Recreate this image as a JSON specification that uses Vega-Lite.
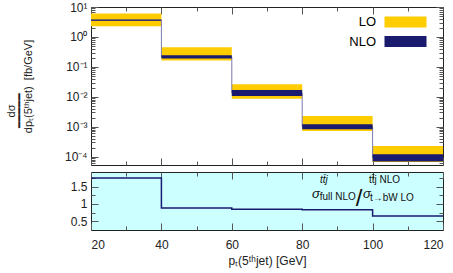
{
  "$schema": "https://vega.github.io/schema/vega-lite/v6.json",
  "padding": {"left": 4, "top": 0, "right": 9, "bottom": 2},
  "config": {
    "font": "Liberation Sans",
    "view": {"stroke": "#222", "strokeWidth": 1},
    "axis": {"domain": false, "grid": false, "tickColor": "#555", "labelFontSize": 12, "labelColor": "#222", "titleFontSize": 12, "titleFontWeight": "normal", "titleColor": "#222"}
  },
  "datasets": {
    "bins": [
      {"xlo": 20, "xhi": 40, "lo_min": 2.29, "lo_max": 6.07, "nlo_min": 3.45, "nlo_max": 3.8},
      {"xlo": 40, "xhi": 60, "lo_min": 0.165, "lo_max": 0.457, "nlo_min": 0.192, "nlo_max": 0.247},
      {"xlo": 60, "xhi": 80, "lo_min": 0.0087, "lo_max": 0.0261, "nlo_min": 0.01064, "nlo_max": 0.0169},
      {"xlo": 80, "xhi": 100, "lo_min": 0.000724, "lo_max": 0.00229, "nlo_min": 0.000826, "nlo_max": 0.00121},
      {"xlo": 100, "xhi": 120, "lo_min": 0.000067, "lo_max": 0.000229, "nlo_min": 0.000069, "nlo_max": 0.000121}
    ],
    "edges": [
      {"x": 20, "nlo": 3.6, "ratio": 1.75},
      {"x": 40, "nlo": 0.215, "ratio": 0.88},
      {"x": 60, "nlo": 0.0134, "ratio": 0.85},
      {"x": 80, "nlo": 0.001, "ratio": 0.83},
      {"x": 100, "nlo": 0.000091, "ratio": 0.653},
      {"x": 120, "nlo": 0.000091, "ratio": 0.653}
    ],
    "note": [{}]
  },
  "spacing": 7,
  "bounds": "flush",
  "vconcat": [
    {
      "width": 352,
      "height": 158,
      "data": {"name": "bins"},
      "resolve": {"scale": {"x": "independent", "y": "independent"}},
      "layer": [
        {
          "mark": {"type": "rect"},
          "encoding": {
            "x": {"field": "xlo", "type": "quantitative", "scale": {"domain": [20, 120], "nice": false, "zero": false},
              "axis": {"orient": "bottom", "values": [20, 30, 40, 50, 60, 70, 80, 90, 100, 110, 120], "labels": false, "title": null,
                "tickSize": {"condition": {"test": "datum.value % 20 == 0", "value": -7}, "value": -4}}},
            "x2": {"field": "xhi"},
            "y": {"field": "lo_min", "type": "quantitative", "scale": {"type": "log", "domain": [0.0000529, 10], "nice": false},
              "axis": {"orient": "left",
                "values": [0.00006, 0.00007, 0.00008, 0.00009, 0.0001, 0.0002, 0.0003, 0.0004, 0.0005, 0.0006, 0.0007, 0.0008, 0.0009, 0.001, 0.002, 0.003, 0.004, 0.005, 0.006, 0.007, 0.008, 0.009, 0.01, 0.02, 0.03, 0.04, 0.05, 0.06, 0.07, 0.08, 0.09, 0.1, 0.2, 0.3, 0.4, 0.5, 0.6, 0.7, 0.8, 0.9, 1, 2, 3, 4, 5, 6, 7, 8, 9, 10],
                "labelExpr": "abs(log(datum.value)/LN10 - round(log(datum.value)/LN10)) < 0.01 ? '10' + ['⁻⁴','⁻³','⁻²','⁻¹','⁰','¹'][round(log(datum.value)/LN10)+4] : ''",
                "tickSize": {"condition": {"test": "abs(log(datum.value)/LN10 - round(log(datum.value)/LN10)) < 0.01", "value": -7}, "value": -4},
                "labelPadding": 11,
                "title": ["dσ\u00a0\u00a0\u00a0\u00a0\u00a0\u00a0\u00a0\u00a0\u00a0\u00a0\u00a0\u00a0\u00a0\u00a0\u00a0\u00a0\u200b", "━━━━━\u00a0\u00a0\u00a0\u00a0\u00a0\u00a0\u00a0\u00a0\u00a0\u00a0\u00a0\u00a0\u00a0\u00a0\u00a0\u00a0\u200b", "dpₜ(5ᵗʰjet)\u00a0\u00a0[fb/GeV]"],
                "titleFontSize": 11,
                "titleLineHeight": 8.5,
                "titlePadding": 31
              }},
            "y2": {"field": "lo_max"},
            "color": {"datum": "LO", "scale": {"domain": ["LO", "NLO"], "range": ["#ffcc00", "#1a1a6e"]},
              "legend": {"orient": "none", "legendX": 304, "legendY": 4.5, "title": null, "symbolType": "M-2,-0.52H2V0.52H-2Z", "symbolSize": 441, "symbolStrokeWidth": 0, "labelFontSize": 13, "labelAlign": "right", "labelOffset": -40, "padding": 0, "rowPadding": 1.5, "symbolOpacity": 1}}
          }
        },
        {
          "data": {"name": "edges"},
          "mark": {"type": "line", "interpolate": "step-after", "color": "#7a7ab0", "strokeWidth": 1},
          "encoding": {
            "x": {"field": "x", "type": "quantitative", "scale": {"domain": [20, 120], "nice": false, "zero": false}, "axis": null},
            "y": {"field": "nlo", "type": "quantitative", "scale": {"type": "log", "domain": [0.0000529, 10], "nice": false}, "axis": null}
          }
        },
        {
          "mark": {"type": "rect"},
          "encoding": {
            "x": {"field": "xlo", "type": "quantitative", "scale": {"domain": [20, 120], "nice": false, "zero": false},
              "axis": {"orient": "top", "values": [20, 30, 40, 50, 60, 70, 80, 90, 100, 110, 120], "labels": false, "title": null,
                "tickSize": {"condition": {"test": "datum.value % 20 == 0", "value": -7}, "value": -4}}},
            "x2": {"field": "xhi"},
            "y": {"field": "nlo_min", "type": "quantitative", "scale": {"type": "log", "domain": [0.0000529, 10], "nice": false},
              "axis": {"orient": "right", "labels": false, "title": null,
                "values": [0.00006, 0.00007, 0.00008, 0.00009, 0.0001, 0.0002, 0.0003, 0.0004, 0.0005, 0.0006, 0.0007, 0.0008, 0.0009, 0.001, 0.002, 0.003, 0.004, 0.005, 0.006, 0.007, 0.008, 0.009, 0.01, 0.02, 0.03, 0.04, 0.05, 0.06, 0.07, 0.08, 0.09, 0.1, 0.2, 0.3, 0.4, 0.5, 0.6, 0.7, 0.8, 0.9, 1, 2, 3, 4, 5, 6, 7, 8, 9, 10],
                "tickSize": {"condition": {"test": "abs(log(datum.value)/LN10 - round(log(datum.value)/LN10)) < 0.01", "value": -7}, "value": -4}}},
            "y2": {"field": "nlo_max"},
            "color": {"datum": "NLO"}
          }
        }
      ]
    },
    {
      "width": 352,
      "height": 58,
      "view": {"fill": "#ccffff", "stroke": "#222"},
      "data": {"name": "edges"},
      "resolve": {"scale": {"x": "independent", "y": "independent"}},
      "layer": [
        {
          "mark": {"type": "line", "interpolate": "step-after", "color": "#1a1a6e", "strokeWidth": 1.5},
          "encoding": {
            "x": {"field": "x", "type": "quantitative", "scale": {"domain": [20, 120], "nice": false, "zero": false},
              "axis": {"orient": "bottom", "values": [20, 30, 40, 50, 60, 70, 80, 90, 100, 110, 120],
                "labelExpr": "datum.value % 20 == 0 ? datum.label : ''", "labelPadding": 16,
                "tickSize": {"condition": {"test": "datum.value % 20 == 0", "value": -7}, "value": -4},
                "title": "pₜ(5ᵗʰjet) [GeV]", "titlePadding": 5, "titleFontSize": 12}},
            "y": {"field": "ratio", "type": "quantitative", "scale": {"domain": [0.25, 1.92], "nice": false, "zero": false},
              "axis": {"orient": "left", "values": [0.5, 0.75, 1, 1.25, 1.5, 1.75],
                "labelExpr": "datum.value == 1 ? '1' : datum.value == 0.5 ? '0.5' : datum.value == 1.5 ? '1.5' : ''", "labelPadding": 11, "title": null,
                "tickSize": {"condition": {"test": "(datum.value * 2) % 1 == 0", "value": -7}, "value": -4}}}
          }
        },
        {
          "mark": {"type": "line", "interpolate": "step-after", "opacity": 0},
          "encoding": {
            "x": {"field": "x", "type": "quantitative", "scale": {"domain": [20, 120], "nice": false, "zero": false},
              "axis": {"orient": "top", "values": [20, 30, 40, 50, 60, 70, 80, 90, 100, 110, 120], "labels": false, "title": null,
                "tickSize": {"condition": {"test": "datum.value % 20 == 0", "value": -7}, "value": -4}}},
            "y": {"field": "ratio", "type": "quantitative", "scale": {"domain": [0.25, 1.92], "nice": false, "zero": false},
              "axis": {"orient": "right", "values": [0.5, 0.75, 1, 1.25, 1.5, 1.75], "labels": false, "title": null,
                "tickSize": {"condition": {"test": "(datum.value * 2) % 1 == 0", "value": -7}, "value": -4}}}
          }
        },
        {"data": {"name": "note"}, "mark": {"type": "text", "text": "σ", "fontSize": 13, "fontStyle": "italic", "align": "left", "baseline": "alphabetic", "color": "#111"},
          "encoding": {"x": {"datum": 82.8, "scale": {"domain": [20, 120], "nice": false, "zero": false}, "axis": null}, "y": {"datum": 1.18, "scale": {"domain": [0.25, 1.92], "nice": false, "zero": false}, "axis": null}}},
        {"data": {"name": "note"}, "mark": {"type": "text", "text": "tt̄j", "fontSize": 10, "fontStyle": "italic", "align": "left", "baseline": "alphabetic", "color": "#111"},
          "encoding": {"x": {"datum": 85.06, "scale": {"domain": [20, 120], "nice": false, "zero": false}, "axis": null}, "y": {"datum": 1.6, "scale": {"domain": [0.25, 1.92], "nice": false, "zero": false}, "axis": null}}},
        {"data": {"name": "note"}, "mark": {"type": "text", "text": "full NLO", "fontSize": 10, "align": "left", "baseline": "alphabetic", "color": "#111"},
          "encoding": {"x": {"datum": 84.97, "scale": {"domain": [20, 120], "nice": false, "zero": false}, "axis": null}, "y": {"datum": 1.102, "scale": {"domain": [0.25, 1.92], "nice": false, "zero": false}, "axis": null}}},
        {"data": {"name": "note"}, "mark": {"type": "text", "text": "/", "fontSize": 24, "align": "left", "baseline": "alphabetic", "color": "#111"},
          "encoding": {"x": {"datum": 95.2, "scale": {"domain": [20, 120], "nice": false, "zero": false}, "axis": null}, "y": {"datum": 0.935, "scale": {"domain": [0.25, 1.92], "nice": false, "zero": false}, "axis": null}}},
        {"data": {"name": "note"}, "mark": {"type": "text", "text": "σ", "fontSize": 13, "fontStyle": "italic", "align": "left", "baseline": "alphabetic", "color": "#111"},
          "encoding": {"x": {"datum": 97.3, "scale": {"domain": [20, 120], "nice": false, "zero": false}, "axis": null}, "y": {"datum": 1.18, "scale": {"domain": [0.25, 1.92], "nice": false, "zero": false}, "axis": null}}},
        {"data": {"name": "note"}, "mark": {"type": "text", "text": "tt̄j NLO", "fontSize": 10, "align": "left", "baseline": "alphabetic", "color": "#111"},
          "encoding": {"x": {"datum": 98.98, "scale": {"domain": [20, 120], "nice": false, "zero": false}, "axis": null}, "y": {"datum": 1.6, "scale": {"domain": [0.25, 1.92], "nice": false, "zero": false}, "axis": null}}},
        {"data": {"name": "note"}, "mark": {"type": "text", "text": "t→bW LO", "fontSize": 10, "align": "left", "baseline": "alphabetic", "color": "#111"},
          "encoding": {"x": {"datum": 99.26, "scale": {"domain": [20, 120], "nice": false, "zero": false}, "axis": null}, "y": {"datum": 1.085, "scale": {"domain": [0.25, 1.92], "nice": false, "zero": false}, "axis": null}}}
      ]
    }
  ]
}
